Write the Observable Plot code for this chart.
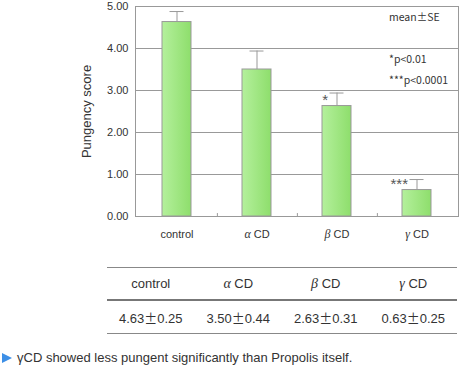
<!DOCTYPE html>
<html><head><meta charset="utf-8">
<script src="https://cdn.jsdelivr.net/npm/d3@7"></script>
<script src="https://cdn.jsdelivr.net/npm/@observablehq/plot@0.6"></script>
<style>
body{margin:0;background:#fff;font-family:"Liberation Sans",Arial,sans-serif;color:#333;}
#chart{width:459px;height:250px;}
#chart svg{display:block;}
table{border-collapse:collapse;margin-left:107px;margin-top:17px;width:350px;font-size:13px;color:#333;table-layout:fixed;}
table td{text-align:center;padding:0;}
tr.head td{height:31px;border-top:1px solid #888;border-bottom:2px solid #777;}
tr.vals td{height:32px;border-bottom:1px solid #888;}
table i{font-family:"Liberation Serif",serif;font-size:14px;}
.pm{font-family:"Noto Sans CJK JP",sans-serif;}
.note{margin-top:16px;height:16px;line-height:16px;font-size:13px;color:#333;position:relative;padding-left:17px;}
.tri{position:absolute;left:2px;top:3px;width:0;height:0;border-top:5px solid transparent;border-bottom:5px solid transparent;border-left:10px solid #3d8fe6;}
</style></head><body>
<div id="chart"></div>
<table id="tbl"><tbody></tbody></table>
<div class="note"><span class="tri"></span><span id="noteText"></span></div>
<script>
const categories = ["control", "α CD", "β CD", "γ CD"];
const means = [4.63, 3.50, 2.63, 0.63];
const ses = [0.25, 0.44, 0.31, 0.25];
const yTicks = [0, 1, 2, 3, 4, 5];
const stars = ["", "", "*", "***"];
const legendNotes = ["mean±SE", "*p<0.01", "***p<0.0001"];
const legendY = [4.73, 3.73, 3.24];
const yLabel = "Pungency score";
const noteText = "γCD showed less pungent significantly than Propolis itself.";

const data = categories.map((c, i) => ({cat: c, mean: means[i], se: ses[i], top: means[i] + ses[i], star: stars[i]}));

const W = 459, H = 250, mL = 135, mR = 1, mT = 6, mB = 34;
const step = (W - mL - mR) / categories.length;
const grid = "#999";

const svg = Plot.plot({
  width: W, height: H,
  marginLeft: mL, marginRight: mR, marginTop: mT, marginBottom: mB,
  style: {fontFamily: "Liberation Sans, Arial, sans-serif", fontSize: "11px", color: "#333", background: "#fff"},
  x: {domain: categories, paddingInner: 0.64, paddingOuter: 0.32, tickSize: 0, tickPadding: 14, label: null},
  y: {domain: [0, 5], ticks: yTicks, tickFormat: d => d.toFixed(2), tickSize: 0, tickPadding: 7,
      label: yLabel, labelAnchor: "center", labelOffset: 54, labelArrow: "none"},
  marks: [
    Plot.ruleY(yTicks.slice(1, -1), {stroke: grid}),
    Plot.ruleX(data, {x: "cat", y1: "mean", y2: "top", stroke: grid}),
    Plot.tickY(data, {x: "cat", y: "top", stroke: grid, insetLeft: 7.5, insetRight: 7.5}),
    Plot.barY(data, {x: "cat", y: "mean", fill: "url(#barGrad)", stroke: grid}),
    Plot.ruleX(data.slice(0, -1), {x: "cat", y1: 0, y2: 0.07, dx: step / 2, stroke: grid}),
    Plot.frame({stroke: grid}),
    Plot.text(data, {x: "cat", y: "mean", text: "star", textAnchor: "end", lineAnchor: "bottom", dx: -9, dy: -1, fontSize: 15, fill: "#555"}),
    Plot.text(legendNotes, {x: () => categories[3], y: legendY, text: d => d, textAnchor: "start", dx: -28,
      fontSize: 10.5, fontFamily: "Noto Sans CJK JP, sans-serif", fill: "#333"})
  ]
});

const ns = "http://www.w3.org/2000/svg";
const defs = document.createElementNS(ns, "defs");
defs.innerHTML = '<linearGradient id="barGrad" x1="0" x2="1" y1="0" y2="0"><stop offset="0" stop-color="#b4f09c"/><stop offset="1" stop-color="#8ede6c"/></linearGradient>';
svg.prepend(defs);

// italic greek letters in x tick labels
const italicize = (el, s) => {
  const m = s.match(/^([α-ω])(.*)$/);
  if (!m) return;
  el.textContent = "";
  const t = document.createElementNS(ns, "tspan");
  t.setAttribute("font-style", "italic");
  t.setAttribute("font-family", "Liberation Serif, serif");
  t.setAttribute("font-size", "12");
  t.textContent = m[1];
  el.appendChild(t);
  el.appendChild(document.createTextNode(m[2]));
};
svg.querySelectorAll('g[aria-label="x-axis tick label"] text').forEach(t => italicize(t, t.textContent));
const yl = svg.querySelector('g[aria-label="y-axis label"]');
if (yl) yl.setAttribute("font-size", "13");

document.getElementById("chart").appendChild(svg);

// table
const tb = document.querySelector("#tbl tbody");
const hr = document.createElement("tr"); hr.className = "head";
categories.forEach(c => {
  const td = document.createElement("td");
  td.innerHTML = c.replace(/^([α-ω])/, "<i>$1</i>");
  hr.appendChild(td);
});
const vr = document.createElement("tr"); vr.className = "vals";
categories.forEach((c, i) => {
  const td = document.createElement("td");
  td.innerHTML = means[i].toFixed(2) + '<span class="pm">±</span>' + ses[i].toFixed(2);
  vr.appendChild(td);
});
tb.appendChild(hr); tb.appendChild(vr);
document.getElementById("noteText").textContent = noteText;
</script>
</body></html>
